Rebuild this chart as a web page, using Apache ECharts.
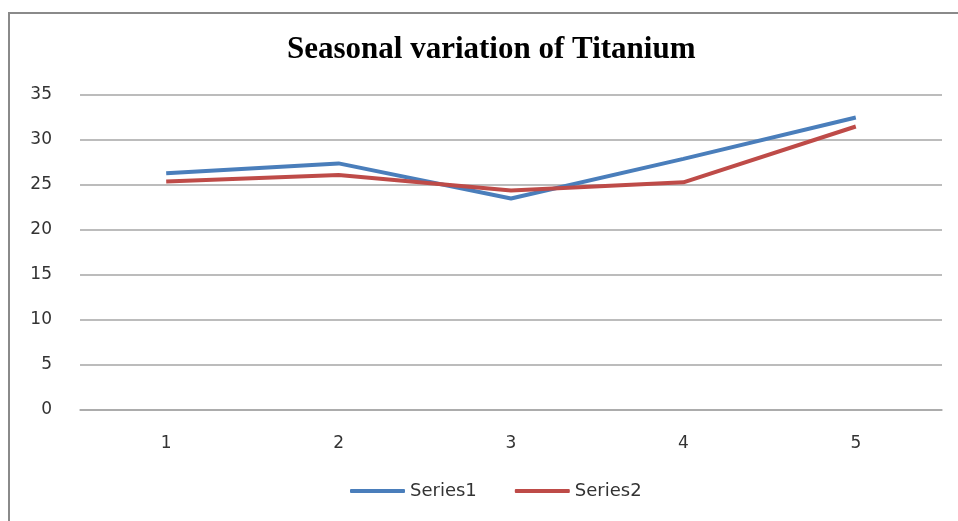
<!DOCTYPE html>
<html>
<head>
<meta charset="utf-8">
<script src="https://cdn.jsdelivr.net/npm/echarts@6/dist/echarts.min.js"></script>
<style>
  html, body { margin: 0; padding: 0; background: #fff; }
  #chart { width: 958px; height: 521px; }
</style>
</head>
<body>
<div id="chart"></div>
<script>
// values
var categories = ['1', '2', '3', '4', '5']
var series1 = [26.3, 27.4, 23.5, 27.9, 32.5]
var series2 = [25.4, 26.1, 24.4, 25.3, 31.5]

var chart = echarts.init(document.getElementById('chart'))
chart.setOption({
  animation: false,
  color: ['#4A7EBB', '#BE4B48'],
  title: {
    text: 'Seasonal variation of Titanium',
    left: 282,
    top: 29,
    textStyle: {
      fontFamily: 'Liberation Serif',
      fontWeight: 'bold',
      fontSize: 31,
      color: '#000'
    }
  },
  graphic: [{
    type: 'rect',
    shape: { x: 9, y: 13, width: 1000, height: 600 },
    style: { fill: 'none', stroke: '#8a8a8a', lineWidth: 2 },
    silent: true
  }],
  legend: {
    bottom: 16,
    left: 345,
    icon: 'roundRect',
    itemWidth: 55,
    itemHeight: 4,
    itemGap: 38,
    itemStyle: { borderWidth: 0 },
    textStyle: { fontFamily: 'DejaVu Sans', fontSize: 18, color: '#333' },
    data: ['Series1', 'Series2']
  },
  grid: {
    left: 80,
    right: 16,
    top: 95,
    bottom: 111
  },
  xAxis: {
    type: 'category',
    data: categories,
    boundaryGap: true,
    axisLine: { lineStyle: { color: '#a6a6a6', width: 1.5 } },
    axisTick: { show: false },
    axisLabel: { fontFamily: 'DejaVu Sans', fontSize: 17, color: '#333', margin: 25 }
  },
  yAxis: {
    type: 'value',
    min: 0,
    max: 35,
    interval: 5,
    axisLine: { show: false },
    axisTick: { show: false },
    splitLine: { lineStyle: { color: '#a6a6a6', width: 1.5 } },
    axisLabel: { fontFamily: 'DejaVu Sans', fontSize: 17, color: '#333', margin: 28 }
  },
  series: [
    {
      name: 'Series1',
      type: 'line',
      data: series1,
      showSymbol: false,
      lineStyle: { width: 4 }
    },
    {
      name: 'Series2',
      type: 'line',
      data: series2,
      showSymbol: false,
      lineStyle: { width: 4 }
    }
  ]
})
</script>
</body>
</html>
